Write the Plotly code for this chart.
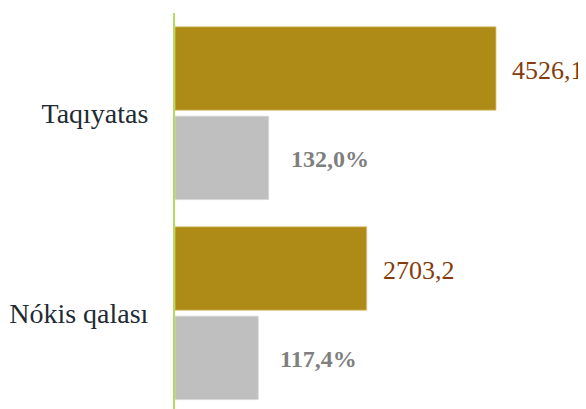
import plotly.graph_objects as go

categories = ["Taqıyatas", "Nókis qalası"]
values = [4526.1, 2703.2]
value_labels = ["4526,1", "2703,2"]
percents = [132.0, 117.4]
percent_labels = ["132,0%", "117,4%"]

GOLD = "#ae8a16"
GRAY = "#bfbfbf"
SERIF = "Liberation Serif, Times New Roman, Times, Tinos, DejaVu Serif, serif"

fig = go.Figure()
fig.add_trace(go.Bar(
    y=categories, x=values, orientation="h", xaxis="x", yaxis="y",
    marker=dict(color=GOLD, line=dict(color="#dcc67a", width=0.8)),
    width=0.417, offset=-0.432, hoverinfo="skip", showlegend=False,
))
fig.add_trace(go.Bar(
    y=categories, x=percents, orientation="h", xaxis="x2", yaxis="y",
    marker=dict(color=GRAY, line=dict(color="#d6d6d6", width=0.8)),
    width=0.417, offset=0.015, hoverinfo="skip", showlegend=False,
))

annotations = []
for c, v, t in zip(categories, values, value_labels):
    annotations.append(dict(
        x=v, y=c, xref="x", yref="y", text=t, showarrow=False,
        xanchor="left", yanchor="middle", xshift=14, yshift=43,
        font=dict(family=SERIF, size=26, color="#843c0c"),
    ))
for c, v, t in zip(categories, percents, percent_labels):
    annotations.append(dict(
        x=v, y=c, xref="x2", yref="y", text="<b>" + t + "</b>", showarrow=False,
        xanchor="left", yanchor="middle", xshift=20, yshift=-46,
        font=dict(family=SERIF, size=24, color="#7f7f7f"),
    ))

# page body has an 8px default margin, so the figure is offset by 8px
fig.update_layout(
    width=578, height=401,
    margin=dict(l=167, r=0, t=5, b=0),
    paper_bgcolor="white", plot_bgcolor="white",
    font=dict(family=SERIF),
    xaxis=dict(range=[0, 5795], visible=False, fixedrange=True),
    xaxis2=dict(range=[0, 579.5], overlaying="x", visible=False, fixedrange=True),
    yaxis=dict(
        type="category", range=[1.479, -0.501], showline=True,
        linecolor="#b2dc5a", linewidth=2, showgrid=False, zeroline=False,
        ticks="", ticklabelstandoff=19,
        tickfont=dict(family=SERIF, size=28, color="#1f2b33"),
    ),
    annotations=annotations,
)

fig.write_html("out.html")
